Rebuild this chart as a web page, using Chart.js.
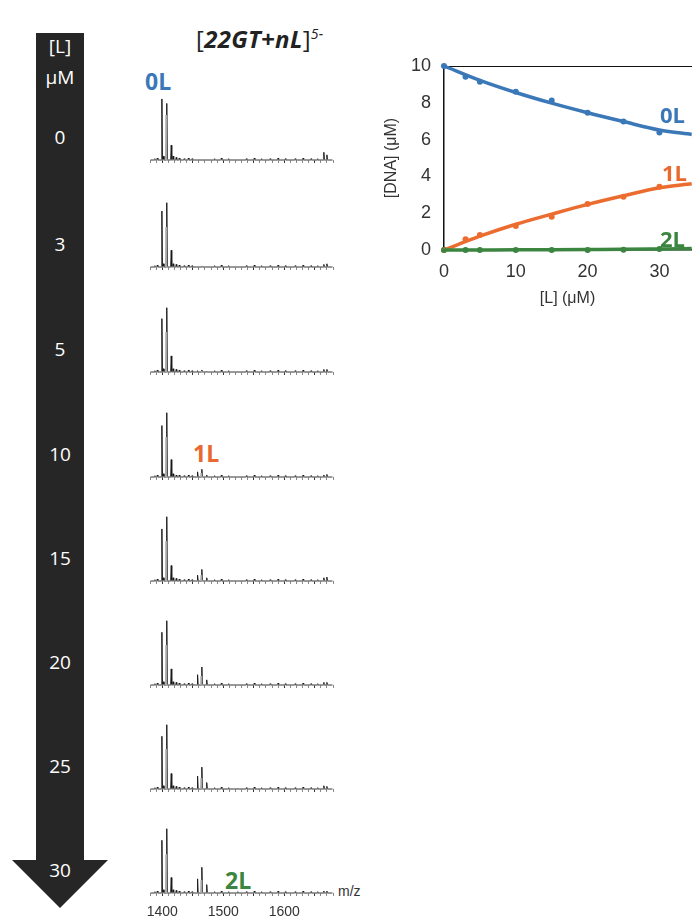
<!DOCTYPE html>
<html>
<head>
<meta charset="utf-8">
<script src="https://cdn.jsdelivr.net/npm/chart.js@4.4.1/dist/chart.umd.min.js"></script>
<style>
  body { margin: 0; background: #fff; width: 695px; height: 922px; overflow: hidden; position: relative; font-family: "Open Sans", sans-serif; }
  .abs { position: absolute; }
  .arrowTxt { position: absolute; left: 36px; width: 48px; text-align: center; color: #fff; font-size: 19px; line-height: 22px; }
  .lab { position: absolute; font-weight: 700; font-size: 23px; line-height: 26px; }
  canvas { position: absolute; }
</style>
</head>
<body>

<!-- concentration arrow -->
<div class="abs" style="left:36px;top:33px;width:48px;height:828px;background:#262626;"></div>
<div class="abs" style="left:12px;top:860px;width:0;height:0;border-left:48px solid transparent;border-right:48px solid transparent;border-top:48px solid #262626;"></div>
<div class="arrowTxt" style="top:35px;">[L]</div>
<div class="arrowTxt" style="top:66px;">μM</div>
<div id="concLabels"></div>

<div class="abs" style="left:196px;top:24px;font-size:24px;line-height:30px;color:#222;white-space:nowrap;letter-spacing:0.3px;">[<b><i>22GT+nL</i></b>]<sup style="font-size:14px;font-style:italic;vertical-align:9px;line-height:0;">5-</sup></div>

<div class="lab" style="left:145px;top:68px;color:#3b78b8;">0L</div>
<div class="lab" style="left:193px;top:440px;color:#e8682f;">1L</div>
<div class="lab" style="left:225px;top:867px;color:#3b8540;">2L</div>
<div class="abs" style="left:338px;top:883px;font-family:'Liberation Sans',Arial,sans-serif;font-size:14px;color:#333;">m/z</div>

<div id="spectra"></div>
<canvas id="bind" width="315" height="264" style="left:380px;top:46px;"></canvas>

<div class="lab" style="left:660px;top:101px;color:#3b78b8;font-size:22px;">0L</div>
<div class="lab" style="left:662px;top:159px;color:#e8682f;font-size:22px;">1L</div>
<div class="lab" style="left:660px;top:225px;color:#3b8540;font-size:22px;">2L</div>

<script>
// ligand concentrations (µM) for the spectra and the titration
var conc = [0, 3, 5, 10, 15, 20, 25, 30];
var baselines = [160, 267, 372, 477, 581, 685, 789, 893];

// peak positions (m/z)
var mzFree = [1399.5, 1407.5, 1414.8];
var mzFreeShoulder = 1406.3;
var mz1L = [1458, 1465, 1473];
var mz1LShoulder = 1463.8;
var mz2L = 1524;

// relative intensities (%) per spectrum
var freeA = [95, 87, 83, 80, 81, 82, 82, 82];
var freeB = [88, 100, 100, 100, 100, 100, 100, 100];
var freeC = [23, 26, 25, 27, 24, 25, 24, 24];
var freeShoulder = [70, 62, 62, 62, 62, 62, 62, 60];
var oneA = [0, 0, 2, 8, 9, 16, 20, 22];
var oneB = [0, 1, 3, 12, 18, 28, 34, 40];
var oneC = [0, 0, 1, 3, 5, 8, 10, 13];
var oneShoulder = [0, 0, 1, 6, 9, 14, 17, 20];
var twoL = [0, 0, 0, 0, 0, 0, 1, 2];

// small side peaks and baseline noise
var extraMz = [1402, 1418, 1423, 1428, 1665, 1670];
var extraInt = [
  [6, 6, 4, 3, 12, 8],
  [5, 5, 4, 3, 4, 5],
  [5, 5, 4, 3, 4, 4],
  [5, 5, 3, 3, 3, 4],
  [5, 5, 4, 3, 5, 6],
  [5, 5, 4, 3, 4, 4],
  [5, 5, 4, 3, 5, 4],
  [5, 5, 4, 3, 3, 3]
];
var noiseMz = [1388, 1392, 1436, 1443, 1449, 1486, 1497, 1509, 1538, 1551, 1563, 1577, 1590, 1602, 1618, 1631, 1644, 1655];
var noiseInt = [2, 3, 2, 3, 2, 2, 3, 2, 2, 3, 2, 2, 3, 2, 2, 3, 2, 2];

// titration data ([DNA] µM vs [L] µM)
var dna0L = [10, 9.42, 9.15, 8.6, 8.12, 7.46, 6.98, 6.38];
var dna1L = [0, 0.58, 0.82, 1.3, 1.81, 2.5, 2.9, 3.44];
var dna2L = [0, 0, 0, 0, 0, 0, 0.02, 0.05];
var fitL = [0, 5, 10, 15, 20, 25, 30, 34.5];
var fit0L = [10, 9.22, 8.56, 7.98, 7.46, 6.98, 6.52, 6.28];
var fit1L = [0, 0.75, 1.4, 1.95, 2.48, 2.95, 3.38, 3.6];
var fit2L = [0, 0.005, 0.01, 0.02, 0.03, 0.04, 0.06, 0.08];

var txt = document.getElementById('concLabels');
conc.forEach(function(c, i) {
  var d = document.createElement('div');
  d.className = 'arrowTxt';
  d.style.top = (baselines[i] - 23 - 11) + 'px';
  d.textContent = c;
  txt.appendChild(d);
});

function stick(peaks) {
  peaks.sort(function(a, b) { return a[0] - b[0]; });
  var pts = [{x: 1381, y: 0}];
  peaks.forEach(function(p) {
    if (p[1] <= 0) return;
    pts.push({x: p[0] - 0.9, y: 0}, {x: p[0], y: p[1]}, {x: p[0] + 0.9, y: 0});
  });
  pts.push({x: 1679, y: 0});
  return pts;
}

function noPad(s) { s.paddingLeft = 0; s.paddingRight = 0; }

var holder = document.getElementById('spectra');
conc.forEach(function(c, i) {
  var last = i === conc.length - 1;
  var cv = document.createElement('canvas');
  var h = last ? 100 : 80;
  cv.width = 203; cv.height = h;
  cv.style.left = '140px';
  cv.style.top = (baselines[i] - 72) + 'px';
  holder.appendChild(cv);

  var peaks = [[mzFree[0], freeA[i]], [mzFree[1], freeB[i]], [mzFree[2], freeC[i]],
               [mz1L[0], oneA[i]], [mz1L[1], oneB[i]], [mz1L[2], oneC[i]], [mz2L, twoL[i]]];
  extraMz.forEach(function(m, k) { peaks.push([m, extraInt[i][k]]); });
  noiseMz.forEach(function(m, k) { peaks.push([m, noiseInt[k]]); });
  var grey = [[mzFreeShoulder, freeShoulder[i]], [mz1LShoulder, oneShoulder[i]]];

  new Chart(cv, {
    type: 'line',
    data: {
      datasets: [
        { data: stick(grey), borderColor: '#a8a8a8', borderWidth: 1, pointRadius: 0, tension: 0, clip: false },
        { data: stick(peaks), borderColor: '#1a1a1a', borderWidth: 1, pointRadius: 0, tension: 0, clip: false }
      ]
    },
    options: {
      responsive: false,
      animation: false,
      layout: { padding: { left: 10, right: 10, top: 0, bottom: 0 } },
      plugins: { legend: { display: false }, tooltip: { enabled: false } },
      scales: {
        x: {
          type: 'linear', min: 1380, max: 1680,
          border: { display: false },
          grid: {
            drawOnChartArea: false, drawTicks: true, tickLength: 3,
            color: function(ctx) { return ctx.tick && ctx.tick.value % 50 === 0 ? '#333' : '#888'; }
          },
          ticks: {
            display: last, stepSize: 10, autoSkip: false, maxRotation: 0, padding: 8,
            color: '#333', font: { family: 'Liberation Sans', size: 14 },
            callback: function(v) { return v % 100 === 0 ? v : ''; }
          },
          afterFit: function(s) { s.height = h - 72; noPad(s); }
        },
        y: { display: false, min: 0, max: 112 }
      }
    }
  });
});

function pairs(xs, ys) { return xs.map(function(x, k) { return {x: x, y: ys[k]}; }); }

var blue = '#3b78b8', orange = '#ec6c30', green = '#3b8540';
var fitStyle = { type: 'line', pointRadius: 0, borderWidth: 3.5, tension: 0.4, cubicInterpolationMode: 'monotone', clip: false };
var ptStyle = { type: 'scatter', pointRadius: 3, borderWidth: 0, clip: false };

new Chart(document.getElementById('bind'), {
  data: {
    datasets: [
      Object.assign({ data: pairs(fitL, fit2L), borderColor: green }, fitStyle),
      Object.assign({ data: pairs(fitL, fit1L), borderColor: orange }, fitStyle),
      Object.assign({ data: pairs(fitL, fit0L), borderColor: blue }, fitStyle),
      Object.assign({ data: pairs(conc, dna2L), backgroundColor: green }, ptStyle),
      Object.assign({ data: pairs(conc, dna1L), backgroundColor: orange }, ptStyle),
      Object.assign({ data: pairs(conc, dna0L), backgroundColor: blue }, ptStyle)
    ]
  },
  options: {
    responsive: false,
    animation: false,
    layout: { padding: { top: 20, right: 0, left: 0, bottom: 0 } },
    plugins: { legend: { display: false }, tooltip: { enabled: false } },
    scales: {
      x: {
        type: 'linear', min: 0, max: 34.4,
        border: { display: true, color: '#111', width: 1.5 },
        grid: { display: false },
        ticks: {
          stepSize: 10, includeBounds: false, padding: 3, autoSkip: false, maxRotation: 0,
          color: '#333', font: { family: 'Liberation Sans', size: 18 }
        },
        title: { display: true, text: '[L] (μM)', color: '#333', font: { family: 'Liberation Sans', size: 16 }, padding: 2 },
        afterFit: function(s) { s.height = 60; noPad(s); }
      },
      x2: {
        type: 'linear', position: 'top', min: 0, max: 34.4,
        border: { display: true, color: '#111', width: 1 },
        grid: { display: false }, ticks: { display: false },
        afterFit: function(s) { s.height = 0; noPad(s); }
      },
      y: {
        min: 0, max: 10,
        border: { display: true, color: '#111', width: 1.5 },
        grid: { display: false },
        ticks: { stepSize: 2, padding: 5, color: '#333', font: { family: 'Liberation Sans', size: 18 } },
        title: { display: true, text: '[DNA] (μM)', color: '#333', font: { family: 'Liberation Sans', size: 16 }, padding: 2 },
        afterFit: function(s) { s.width = 64; }
      }
    }
  }
});
</script>
</body>
</html>
